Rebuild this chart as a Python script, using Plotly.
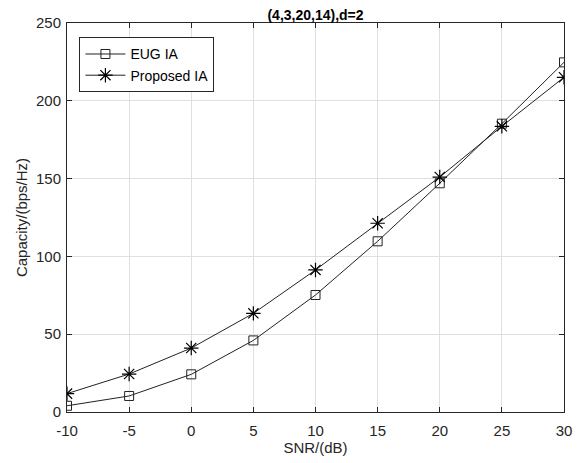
import plotly.graph_objects as go

snr = [-10, -5, 0, 5, 10, 15, 20, 25, 30]
eug_ia = [4, 10.3, 24.2, 46, 75.2, 109.7, 147, 185.3, 224.7]
proposed_ia = [11.8, 24.4, 41.1, 63.4, 91.3, 121.3, 151, 183.6, 215.1]
x_ticks = [-10, -5, 0, 5, 10, 15, 20, 25, 30]
x_tick_labels = ["-10", "-5", "0", "5", "10", "15", "20", "25", "30"]
y_ticks = [0, 50, 100, 150, 200, 250]
y_tick_labels = ["0", "50", "100", "150", "200", "250"]

font = "Liberation Sans, Arial, sans-serif"
fig = go.Figure()
fig.add_trace(go.Scatter(
    x=snr, y=eug_ia, mode="lines+markers", name="EUG IA",
    line=dict(color="#222222", width=1),
    marker=dict(symbol="square-open", size=9, color="#222222", line=dict(width=1)),
))
fig.add_trace(go.Scatter(
    x=snr, y=proposed_ia, mode="lines+markers", name="Proposed IA",
    line=dict(color="#222222", width=1),
    marker=dict(symbol="asterisk-open", size=12, color="#000000", line=dict(width=1.2)),
))

axis_common = dict(
    showline=True, linecolor="#262626", linewidth=1, mirror="allticks",
    ticks="inside", ticklen=5, tickcolor="#262626",
    showgrid=True, gridcolor="#dfdfdf", gridwidth=1, automargin=False,
    zeroline=False, tickfont=dict(family=font, size=15, color="#262626"),
)
fig.update_xaxes(range=[-10, 30], tickvals=x_ticks, ticktext=x_tick_labels,
                 ticklabelstandoff=5,
                 title=dict(text="SNR/(dB)", font=dict(family=font, size=15, color="#262626"), standoff=2),
                 **axis_common)
fig.update_yaxes(range=[0, 250], tickvals=y_ticks, ticktext=y_tick_labels,
                 ticklabelstandoff=2,
                 title=dict(text="Capacity/(bps/Hz)", font=dict(family=font, size=15, color="#262626"), standoff=4),
                 **axis_common)

fig.update_layout(
    width=577, height=455,
    margin=dict(l=59, r=21, t=15, b=51),
    paper_bgcolor="white", plot_bgcolor="white",
    title=dict(text="<b>(4,3,20,14),d=2</b>", x=0.5, xref="paper", xanchor="center",
               y=1, yref="paper", yanchor="bottom", pad=dict(b=3),
               font=dict(family=font, size=14, color="black")),
    legend=dict(x=0.025, y=0.963, xanchor="left", yanchor="top",
                bordercolor="#262626", borderwidth=1, bgcolor="white",
                font=dict(family=font, size=14, color="black"),
                tracegroupgap=0, itemwidth=40),
    showlegend=True,
)

fig.write_html("out.html")
